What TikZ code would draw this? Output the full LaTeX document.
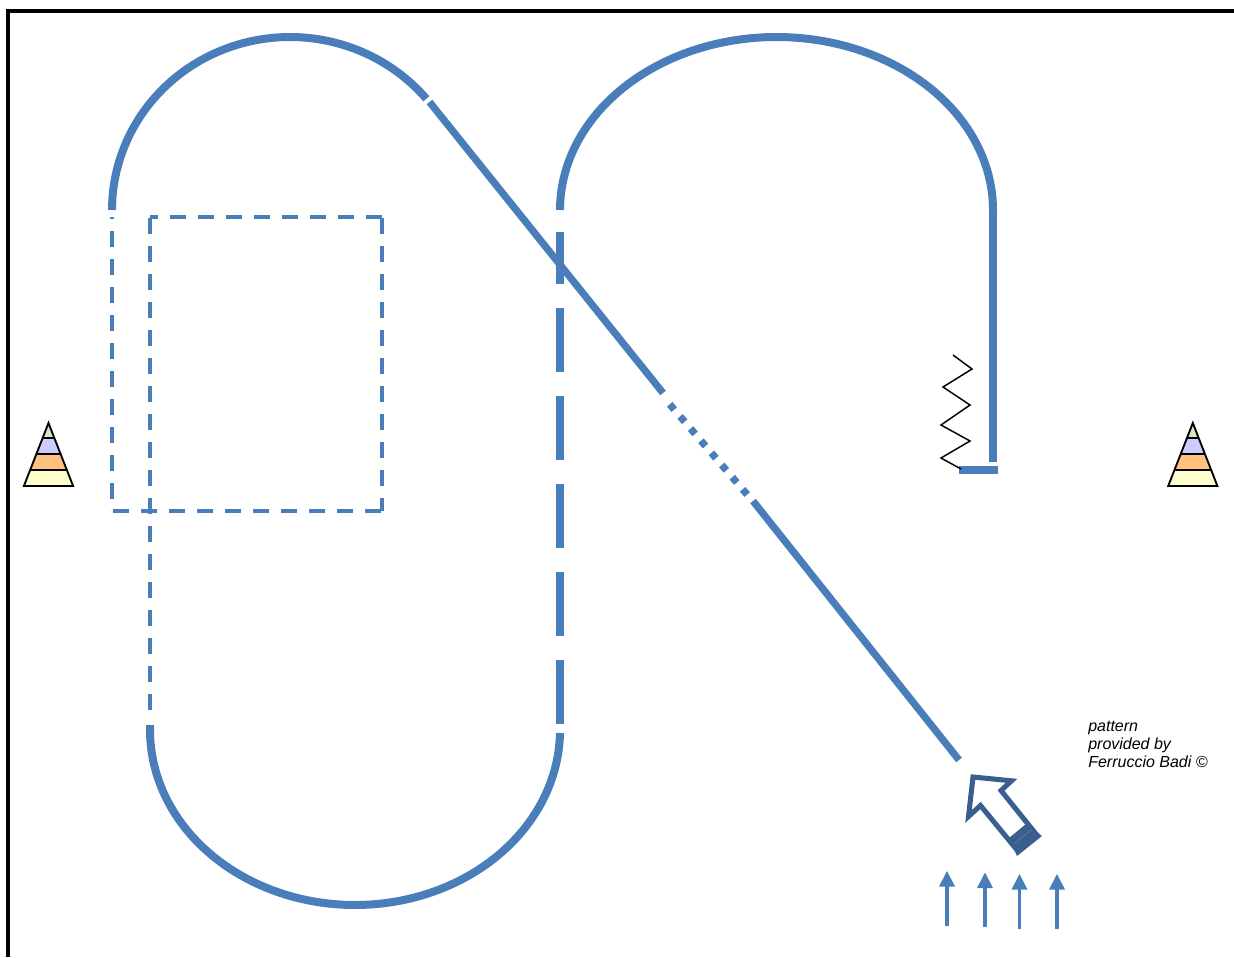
\documentclass[tikz,border=0pt]{standalone}
\usepackage{fontspec}
\setmainfont{Liberation Sans}
\definecolor{routeblue}{HTML}{4A7EBB}
\definecolor{arrowblue}{HTML}{3A5F8F}
\definecolor{conegreen}{HTML}{D8E8B8}
\definecolor{conelav}{HTML}{CCCCFF}
\definecolor{coneorange}{HTML}{FFC080}
\definecolor{coneyellow}{HTML}{FFFFCC}
\tikzset{
  route/.style={draw=routeblue,line width=6pt,line cap=butt},
  diag/.style={draw=routeblue,line width=5.4pt,line cap=butt},
  walk/.style={draw=routeblue,line width=2.4pt,line cap=butt,dash pattern=on 12pt off 9pt},
  spring/.style={draw=black,line width=1.1pt,line join=miter},
  coneout/.style={draw=black,line width=1.4pt,line join=miter},
  legend/.style={anchor=base west,inner sep=0pt,font=\fontsize{12}{13.5}\selectfont\itshape},
  pole/.style={draw=routeblue,line width=2.4pt},
  polehead/.style={fill=routeblue},
  rider/.style={draw=arrowblue,line width=3.8pt,line join=miter,miter limit=10}
}
\newcommand{\conemark}[1]{%
  \begin{scope}[shift={(#1,0)}]
    \fill[conegreen] (0,423) -- (6,438) -- (-6,438) -- cycle;
    \fill[conelav] (-6,438) -- (6,438) -- (12.3,454) -- (-12.3,454) -- cycle;
    \fill[coneorange] (-12.3,454) -- (12.3,454) -- (18.6,470) -- (-18.6,470) -- cycle;
    \fill[coneyellow] (-18.6,470) -- (18.6,470) -- (24.6,486) -- (-24.6,486) -- cycle;
    \draw[coneout] (0,423) -- (24.6,486) -- (-24.6,486) -- cycle;
    \draw[coneout] (-6,438) -- (6,438) (-12.3,454) -- (12.3,454) (-18.6,470) -- (18.6,470);
  \end{scope}}
\newcommand{\polemark}[3]{%
  \draw[pole] (#1,#2+13) -- (#1,#3);
  \fill[polehead] (#1,#2) -- (#1+8,#2+15.5) -- (#1-8,#2+15.5) -- cycle;}
\begin{document}
\begin{tikzpicture}[x=0.75pt,y=-0.75pt]
\useasboundingbox (0,0) rectangle (1234,957);
% frame
\draw[black,line width=2.4pt] (8,957) -- (8,11) -- (1234,11);
% curves
\draw[route] plot[domain=180:320,samples=80,variable=\t] ({290+178*cos(\t)},{210+173*sin(\t)});
\draw[route] plot[domain=180:360,samples=90,variable=\t] ({776.5+216.5*cos(\t)},{210+173*sin(\t)});
\draw[route] (150,725) -- plot[domain=180:1,samples=90,variable=\t] ({355+205*cos(\t)},{730+175*sin(\t)});
% straight stretches
\draw[route] (993,210) -- (993,462);
\draw[route] (959,469.5) -- (998,469.5);
\draw[route,dash pattern=on 48pt off 18pt,dash phase=9pt] (560,232) -- (560,724);
% diagonal
\draw[diag] (429.5,102) -- (663,393);
\draw[diag,dash pattern=on 5.25pt off 6.75pt] (669.7,404.3) -- (747.3,494.7);
\draw[diag] (753,501) -- (959,760);
% walk rectangle
\draw[walk,dash phase=10.5pt] (112,217) -- (112,511);
\draw[walk] (113,511) -- (382,511);
\draw[walk] (150,218) -- (150,715);
\draw[walk,dash phase=6pt] (150,217) -- (382,217);
\draw[walk] (382,218) -- (382,511);
% spring
\draw[spring] (953,355) -- (972,369) -- (943,387) -- (970,405) -- (941,425) -- (970,441) -- (941,458) -- (961,469);
% cones
\conemark{48.5}
\conemark{1192.8}
% rider arrow
\draw[rider] (973,777) -- (1011.5,780.8) -- (1001,790.5) -- (1036,834) -- (1017,850) -- (980.5,805.5) -- (968.5,816.5) -- cycle;
\fill[arrowblue] (1026,824) -- (1042,836) -- (1017,856) -- (1009,838) -- cycle;
\draw[white!25!arrowblue,line width=0.3pt] (1014,844) -- (1031,830);
% text
\node[legend] (l1) at (1088,731) {pattern};
\node[legend] (l2) at (1088,749) {provided by};
\node[legend] (l3) at (1088,767) {Ferruccio Badi ©};
% poles
\polemark{947}{871}{926}
\polemark{985}{872.5}{927}
\polemark{1019.5}{874}{929}
\polemark{1057}{874}{929}
\end{tikzpicture}
\end{document}
